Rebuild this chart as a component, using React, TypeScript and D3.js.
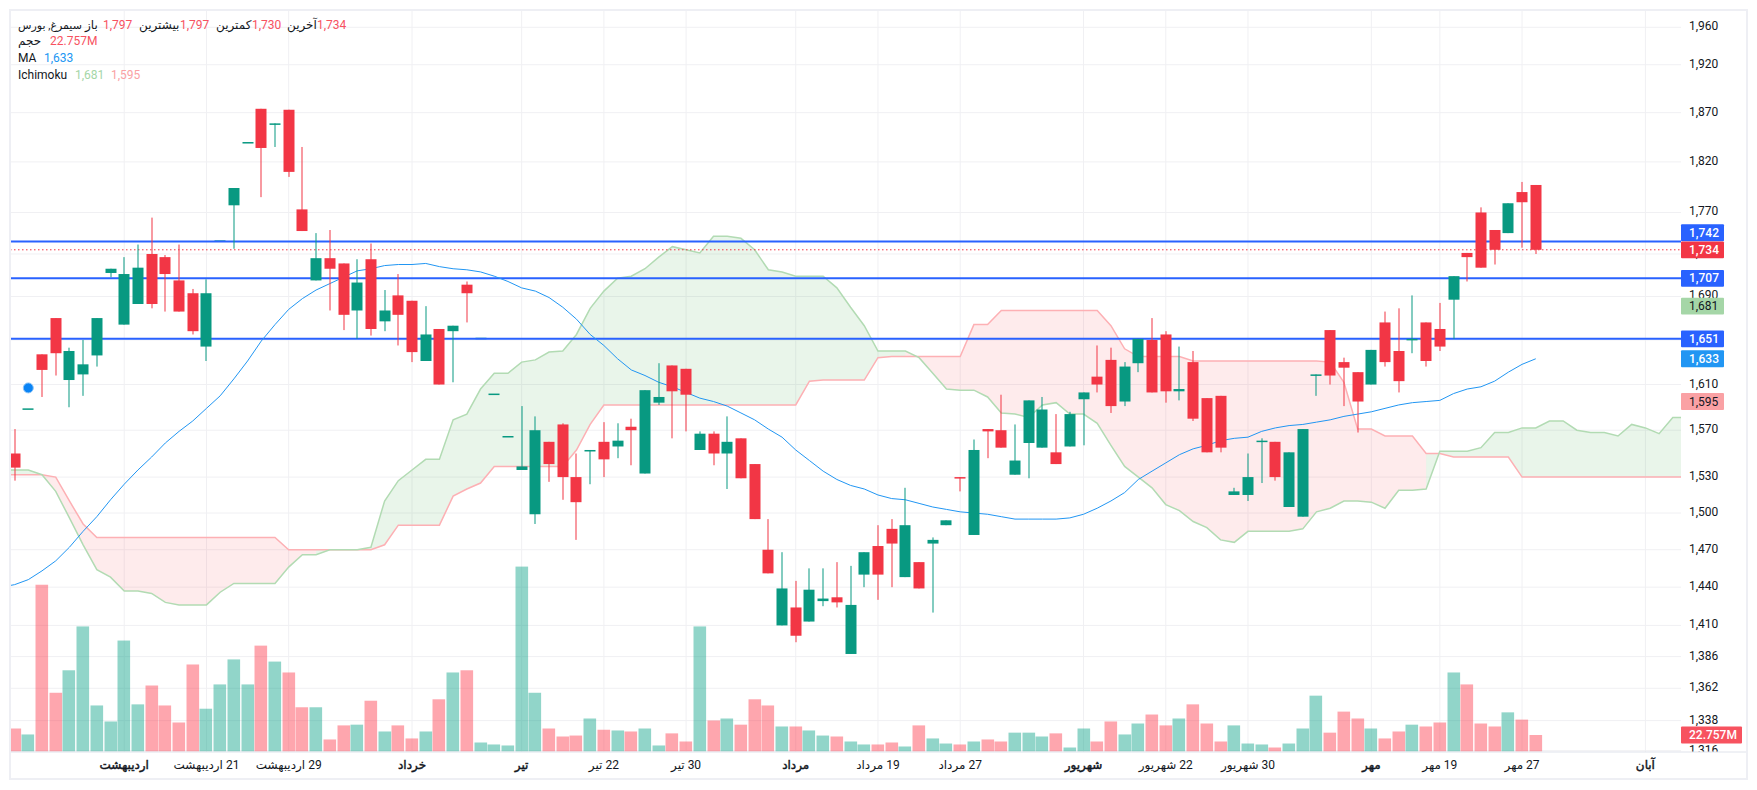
import * as d3 from 'd3';

// OHLC, one entry per trading day
const opens = [1550,1589,1637,1670,1614,1619,1636,1712,1664,1683,1730,1727,1705,1693,1644,1743,1777,1840,1874,1859,1873,1773,1705,1726,1721,1677,1725,1667,1691,1686,1631,1660,1658,1701,1652,1602,1565,1536,1499,1560,1575,1530,1553,1560,1556,1573,1533,1594,1627,1624,1553,1567,1550,1563,1541,1470,1410,1424,1413,1429,1432,1388,1450,1473,1487,1448,1460,1475,1490,1530,1482,1571,1570,1532,1559,1555,1551,1556,1597,1617,1632,1595,1629,1650,1655,1604,1630,1598,1600,1515,1515,1560,1560,1505,1497,1618,1659,1630,1621,1610,1666,1640,1650,1666,1660,1687,1731,1770,1753,1750,1790,1797];
const highs = [1571,1589,1637,1670,1643,1650,1670,1716,1727,1739,1765,1729,1739,1697,1706,1743,1794,1840,1874,1859,1873,1835,1750,1753,1721,1725,1740,1696,1711,1686,1681,1660,1663,1704,1652,1602,1565,1591,1582,1560,1576,1550,1553,1577,1576,1580,1605,1629,1627,1624,1569,1569,1582,1563,1541,1495,1468,1445,1455,1455,1460,1457,1468,1490,1495,1521,1460,1480,1494,1530,1562,1571,1601,1575,1596,1599,1584,1586,1603,1645,1643,1630,1651,1670,1658,1644,1640,1598,1600,1521,1550,1563,1560,1551,1571,1619,1659,1634,1621,1641,1676,1679,1691,1666,1684,1709,1731,1775,1753,1779,1800,1797];
const lows = [1527,1589,1599,1618,1590,1600,1626,1708,1664,1683,1679,1676,1676,1655,1631,1743,1735,1840,1785,1835,1805,1752,1705,1677,1659,1651,1654,1658,1645,1630,1631,1610,1612,1666,1652,1602,1565,1536,1491,1526,1511,1478,1524,1530,1546,1540,1533,1592,1563,1569,1553,1540,1520,1529,1495,1451,1410,1397,1413,1425,1424,1388,1440,1430,1440,1448,1439,1420,1490,1518,1482,1546,1555,1532,1529,1555,1541,1556,1557,1603,1585,1591,1621,1603,1594,1596,1578,1551,1551,1515,1510,1525,1527,1505,1497,1600,1610,1591,1568,1610,1626,1603,1638,1626,1640,1651,1704,1717,1720,1750,1736,1730];
const closes = [1538,1589,1623,1638,1640,1628,1670,1716,1711,1717,1683,1711,1676,1658,1693,1743,1794,1840,1834,1859,1810,1752,1726,1716,1673,1703,1660,1677,1673,1639,1655,1610,1663,1693,1652,1602,1565,1539,1570,1541,1530,1509,1553,1545,1561,1570,1605,1599,1604,1601,1567,1550,1560,1529,1495,1451,1439,1402,1438,1431,1428,1426,1468,1450,1475,1490,1439,1478,1494,1529,1553,1569,1555,1544,1596,1588,1541,1584,1603,1610,1591,1626,1651,1603,1604,1606,1580,1551,1555,1518,1530,1561,1530,1551,1571,1619,1618,1625,1595,1641,1630,1613,1651,1631,1644,1709,1727,1717,1734,1779,1780,1734];
// volume in millions
const volumes = [31.7,23.5,230,81,112,172.5,63.5,41.4,153,65,91,63.5,40,120,59,92.5,127,92.5,146,124,109,61,61,16.6,36,37,70,27.6,36,18,27.6,72,109,112,12.4,9.7,8.3,255,81,31.7,20.7,22,45.5,30,29,27.6,31.7,8.3,25,13.8,172.5,42.8,45.5,37,72,63.5,34.5,34.5,29,22,20.7,13.8,9.7,9.7,12.4,6.9,36,18,11,9.7,13.8,16.6,13.8,26,26,20.7,25,5.5,31.7,13.8,41.4,23.5,38.6,51,36,45.5,65,38.6,13.8,36,11,9.7,5.5,11,31.7,77,26,55,45.5,31.7,18,27.6,37,34.5,40,109,92.5,38.6,34.5,54,44,22.757];
// these three start one bar before the first visible candle
const maValues = [1440,1442,1446,1453,1461,1472,1485,1497,1511,1524,1536,1547,1559,1569,1578,1589,1600,1615,1631,1649,1664,1678,1688,1696,1702,1708,1714,1716,1719,1720,1720,1721,1718,1716,1715,1713,1709,1704,1698,1695,1689,1680,1669,1655,1645,1633,1623,1618,1612,1608,1603,1598,1595,1591,1585,1579,1571,1564,1553,1544,1535,1528,1523,1520,1515,1512,1511,1508,1505,1503,1501,1500,1499,1497,1495,1495,1495,1495,1496,1499,1504,1510,1517,1528,1535,1542,1549,1554,1557,1561,1563,1564,1569,1572,1574,1575,1577,1579,1582,1584,1586,1589,1592,1594,1595,1596,1602,1606,1608,1613,1621,1628,1633];
const senkouA = [1536,1536,1536,1532,1518,1496,1474,1454,1448,1437,1437,1435,1428,1426,1426,1426,1436,1443,1443,1443,1443,1456,1466,1466,1470,1470,1470,1472,1510,1527,1536,1545,1545,1579,1584,1606,1620,1620,1630,1632,1639,1640,1655,1679,1695,1707,1709,1716,1727,1737,1734,1731,1747,1747,1745,1734,1715,1713,1709,1709,1709,1698,1680,1663,1640,1640,1640,1634,1620,1606,1605,1605,1599,1585,1584,1581,1592,1594,1584,1584,1576,1557,1539,1530,1521,1507,1502,1493,1488,1478,1476,1485,1485,1485,1485,1487,1501,1504,1510,1510,1509,1504,1519,1519,1520,1552,1552,1552,1555,1568,1568,1572,1572,1578,1578,1570,1568,1568,1565,1575,1572,1567,1581,1581];
const senkouB = [1532,1532,1532,1532,1530,1510,1491,1480,1480,1480,1480,1480,1480,1480,1480,1480,1480,1480,1480,1480,1480,1470,1470,1470,1470,1470,1470,1470,1474,1490,1490,1490,1490,1514,1520,1525,1539,1539,1539,1539,1539,1539,1553,1575,1592,1592,1592,1592,1592,1592,1592,1592,1592,1592,1592,1592,1592,1592,1592,1613,1614,1614,1614,1614,1634,1635,1635,1635,1635,1635,1635,1664,1664,1677,1677,1677,1677,1677,1677,1677,1677,1663,1642,1635,1635,1635,1635,1631,1631,1631,1631,1631,1631,1631,1631,1631,1631,1630,1612,1571,1571,1565,1565,1565,1550,1550,1547,1547,1547,1547,1547,1530,1530,1530,1530,1530,1530,1530,1530,1530,1530,1530,1530,1530];

const priceTicks = [1960,1920,1870,1820,1770,1730,1690,1650,1610,1570,1530,1500,1470,1440,1410,1386,1362,1338,1316];
const levelLines = [1742,1707,1651];
const lastPrice = 1734;
const markerBar = 1;
const markerPrice = 1607;

const timeBars = [8,14,20,29,37,43,49,57,63,69,78,84,90,99,104,110,119];
const timeLabels = ['اردیبهشت','21 اردیبهشت','29 اردیبهشت','خرداد','تیر','22 تیر','30 تیر','مرداد','19 مرداد','27 مرداد','شهریور','22 شهریور','30 شهریور','مهر','19 مهر','27 مهر','آبان'];
const boldLabels = ['اردیبهشت','خرداد','تیر','مرداد','شهریور','مهر','آبان'];

const UP = '#089981';
const DOWN = '#f23645';
const FONT = "Roboto, 'DejaVu Sans', sans-serif";

const left = 10;
const right = 1681;
const bottom = 752;

const x = d3.scaleLinear().domain([0, 119]).range([14.6, 1645.4]);
const y = d3.scaleLog().domain([1960, 1316]).range([27.3, 750.7]);
const yVol = d3.scaleLinear().domain([0, 255]).range([751.5, 566.6]);

const maLine = d3.line<number>()
  .x((_, i) => x(i - 1))
  .y(d => y(d));

const cloudArea = d3.area<number>()
  .x(i => x(i - 1))
  .y0(i => y(senkouA[i]))
  .y1(i => y(senkouB[i]));

// split the cloud in runs, each segment takes the colour of its right end
const cloudRuns = () => {
  const runs: { green: boolean; idx: number[] }[] = [];
  for (let i = 0; i < senkouA.length - 1; i++) {
    const green = senkouA[i + 1] >= senkouB[i + 1];
    const last = runs[runs.length - 1];
    if (last && last.green === green) last.idx.push(i + 1);
    else runs.push({ green, idx: [i, i + 1] });
  }
  return runs;
};

const priceTags = [
  { label: '1,742', value: 1742, shift: -8.7, fill: '#2962ff', text: '#fff' },
  { label: '1,734', value: 1734, shift: 0, fill: DOWN, text: '#fff' },
  { label: '1,707', value: 1707, shift: 0, fill: '#2962ff', text: '#fff' },
  { label: '1,681', value: 1681, shift: 0, fill: '#a5d6a7', text: '#131722' },
  { label: '1,651', value: 1651, shift: 0, fill: '#2962ff', text: '#fff' },
  { label: '1,633', value: 1633, shift: 0, fill: '#2196f3', text: '#fff' },
  { label: '1,595', value: 1595, shift: 0, fill: '#faa1a4', text: '#131722' },
];

const Legend = () => {
  const dark = '#131722';
  const red = '#f7525f';
  const row1 = 25;
  const faLabel = (label: string, xPos: number, yPos: number, size = 12) => (
    <text x={xPos} y={yPos} dy="0.35em" textAnchor="end" fill={dark} fontSize={size} style={{ direction: 'rtl' }}>{label}</text>
  );
  return (
    <g fontFamily={FONT} fontSize={12}>
      {faLabel('سیمرغ, بورس', 18, row1, 11)}
      {faLabel('باز', 85, row1)}
      <text x={103} y={row1} dy="0.35em" fill={red}>1,797</text>
      {faLabel('بیشترین', 139, row1)}
      <text x={180} y={row1} dy="0.35em" fill={red}>1,797</text>
      {faLabel('کمترین', 216, row1)}
      <text x={252} y={row1} dy="0.35em" fill={red}>1,730</text>
      {faLabel('آخرین', 287, row1)}
      <text x={317} y={row1} dy="0.35em" fill={red}>1,734</text>
      {faLabel('حجم', 18, 41)}
      <text x={50} y={41} dy="0.35em" fill={red}>22.757M</text>
      <text x={18} y={58} dy="0.35em" fill={dark}>MA</text>
      <text x={44} y={58} dy="0.35em" fill="#2196f3">1,633</text>
      <text x={18} y={75} dy="0.35em" fill={dark}>Ichimoku</text>
      <text x={75} y={75} dy="0.35em" fill="#a5d6a7">1,681</text>
      <text x={111} y={75} dy="0.35em" fill="#faa1a4">1,595</text>
    </g>
  );
};

const Candle = ({ i }: { i: number }) => {
  const o = opens[i];
  const c = closes[i];
  const cx = Math.round(x(i));
  const top = y(Math.max(o, c));
  const h = Math.max(1.5, y(Math.min(o, c)) - top);
  return (
    <g fill={c >= o ? UP : DOWN}>
      <rect x={cx - 0.5} y={y(highs[i])} width={1} height={y(lows[i]) - y(highs[i])} />
      <rect x={cx - 5.5} y={top} width={11} height={h} />
    </g>
  );
};

const App = () => {
  return (
    <svg width={1757} height={790} style={{ position: 'absolute', left: 0, top: 0, display: 'block', background: '#fff' }}>
      <defs>
        <clipPath id="plot"><rect x={left} y={11} width={right - left} height={bottom - 11} /></clipPath>
        <clipPath id="axis"><rect x={right} y={11} width={65} height={bottom - 11} /></clipPath>
      </defs>

      {/* grid */}
      {priceTicks.map(t => (
        <line key={t} x1={left} x2={right} y1={y(t)} y2={y(t)} stroke="#f0f0f3" strokeWidth={1} />
      ))}
      {timeBars.map(b => (
        <line key={b} x1={x(b)} x2={x(b)} y1={11} y2={bottom} stroke="#f0f0f3" strokeWidth={1} />
      ))}

      <g clipPath="url(#plot)">
        {/* volume */}
        {volumes.map((v, i) => (
          <rect
            key={i}
            x={Math.round(x(i)) - 6.5}
            y={yVol(v)}
            width={12.6}
            height={yVol(0) - yVol(v)}
            fill={closes[i] >= opens[i] ? '#0ba287' : '#fd394b'}
            opacity={0.45}
          />
        ))}

        {/* ichimoku cloud */}
        {cloudRuns().map((r, i) => (
          <path
            key={i}
            d={cloudArea(r.idx) || ''}
            fill={r.green ? 'rgba(76,175,80,0.12)' : 'rgba(242,54,69,0.1)'}
          />
        ))}
        <path d={maLine(senkouB) || ''} fill="none" stroke="#fdb0b4" strokeWidth={1.5} />
        <path d={maLine(senkouA) || ''} fill="none" stroke="#b2dbb3" strokeWidth={1.5} />

        {/* flat days sit under the level lines */}
        {opens.map((_, i) => (highs[i] === lows[i] ? <Candle key={i} i={i} /> : null))}

        {/* price levels */}
        <line x1={left} x2={right} y1={y(lastPrice)} y2={y(lastPrice)} stroke={DOWN} strokeWidth={1} strokeDasharray="1.5 2.5" />
        {levelLines.map(l => (
          <line key={l} x1={left} x2={right} y1={y(l)} y2={y(l)} stroke="#2962ff" strokeWidth={2} />
        ))}

        <path d={maLine(maValues) || ''} fill="none" stroke="#2196f3" strokeWidth={1} />

        {/* candles */}
        {opens.map((_, i) => (highs[i] === lows[i] ? null : <Candle key={i} i={i} />))}

        {/* marker */}
        <circle cx={x(markerBar)} cy={y(markerPrice)} r={5} fill="#0a84f5" stroke="#8cc4f8" strokeWidth={1} />
      </g>

      {/* price axis */}
      <g clipPath="url(#axis)" fontFamily={FONT} fontSize={12} fill="#131722">
        {priceTicks.map(t => (
          <text key={t} x={1689} y={y(t) - 1.2} dy="0.35em">{d3.format(',')(t)}</text>
        ))}
      </g>
      <g fontFamily={FONT} fontSize={12}>
        {priceTags.map(t => (
          <g key={t.label}>
            <rect x={right} y={y(t.value) + t.shift - 8.4} width={43} height={16.8} fill={t.fill} rx={1} />
            <text x={1689} y={y(t.value) + t.shift} dy="0.35em" fill={t.text} fontWeight={t.text === '#fff' ? 500 : 400}>{t.label}</text>
          </g>
        ))}
        <rect x={right} y={yVol(volumes[volumes.length - 1]) - 8.4} width={61} height={16.8} fill="#f7525f" rx={1} />
        <text x={1689} y={yVol(volumes[volumes.length - 1])} dy="0.35em" fill="#fff" fontWeight={500}>22.757M</text>
      </g>

      {/* time axis */}
      <line x1={left} x2={1747} y1={bottom} y2={bottom} stroke="#e0e3eb" strokeWidth={1} />
      <g fontFamily={FONT} fontSize={12} fill="#131722">
        {timeBars.map((b, i) => {
          const strong = boldLabels.includes(timeLabels[i]);
          return (
            <text
              key={b}
              x={x(b)}
              y={764.5}
              dy="0.35em"
              textAnchor="middle"
              stroke={strong ? '#131722' : 'none'}
              strokeWidth={strong ? 0.45 : 0}
              style={{ direction: 'rtl' }}
            >
              {timeLabels[i]}
            </text>
          );
        })}
      </g>

      <Legend />

      {/* frame */}
      <rect x={10} y={10} width={1737} height={769} fill="none" stroke="#eeeff4" strokeWidth={2} />
    </svg>
  );
};

export default App;
